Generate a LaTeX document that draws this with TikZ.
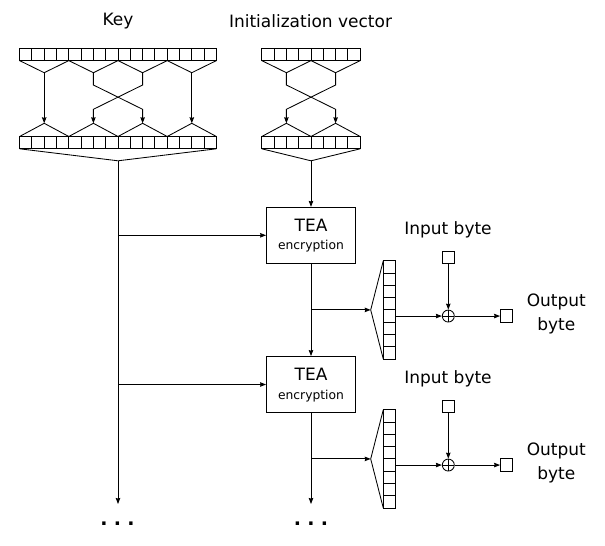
\documentclass[tikz,border=0pt]{standalone}
\usepackage{fontspec}
\setmainfont{DejaVu Sans}
\usetikzlibrary{arrows.meta}
\begin{document}
\begin{tikzpicture}[x=1pt,y=-1pt,line width=0.85pt,
  arr/.style={-{Stealth[length=6pt,width=4.5pt,inset=0.6pt]}},
  biglbl/.style={font=\fontsize{17}{24}\selectfont, inner sep=0pt, align=center},
  smalllbl/.style={font=\fontsize{12.3}{15}\selectfont, inner sep=0pt},
  teabox/.style={draw, minimum width=89pt, minimum height=56pt, inner sep=0pt},
  bytebox/.style={draw, minimum width=12.4pt, minimum height=12.4pt, inner sep=0pt},
  xorc/.style={draw, circle, minimum size=12pt, inner sep=0pt, path picture={
      \draw (path picture bounding box.north) -- (path picture bounding box.south)
            (path picture bounding box.west) -- (path picture bounding box.east);}},
  dots/.style={font=\fontsize{19}{20}\selectfont\bfseries, inner sep=0pt}]
\useasboundingbox (0,0) rectangle (605,546);

% ---------- labels ----------
\node[biglbl] (keylbl) at (118,21.5) {Key};
\node[biglbl] (ivlbl) at (310.5,21.5) {Initialization vector};

% ---------- key registers ----------
\def\cw{12.3}
\draw (19.6,48.3) rectangle (216.4,60.6);
\foreach \i in {1,...,15} \draw ({19.6+\cw*\i},48.3) -- ({19.6+\cw*\i},60.6);
\draw (19.6,136.5) rectangle (216.4,148.8);
\foreach \i in {1,...,15} \draw ({19.6+\cw*\i},136.5) -- ({19.6+\cw*\i},148.8);
\foreach \k in {0,...,3}{
  \coordinate (ka\k) at ({44.2+49.2*\k},72.7);
  \coordinate (kb\k) at ({44.2+49.2*\k},123.3);
  \draw ({19.6+49.2*\k},60.6) -- (ka\k) -- ({19.6+49.2*(\k+1)},60.6);
  \draw ({19.6+49.2*\k},136.5) -- (kb\k) -- ({19.6+49.2*(\k+1)},136.5);
}
\draw[arr] (ka0) -- (kb0);
\draw[arr] (ka3) -- (kb3);
\draw[arr] (ka1) -- (93.4,85) -- (142.6,109.3) -- (kb2);
\draw[arr] (ka2) -- (142.6,85) -- (93.4,109.3) -- (kb1);
\coordinate (kout) at (118,160.8);
\draw (19.6,148.8) -- (kout) -- (216.4,148.8);

% ---------- IV registers ----------
\draw (261.8,48.3) rectangle (360.2,60.6);
\foreach \i in {1,...,7} \draw ({261.8+\cw*\i},48.3) -- ({261.8+\cw*\i},60.6);
\draw (261.8,136.5) rectangle (360.2,148.8);
\foreach \i in {1,...,7} \draw ({261.8+\cw*\i},136.5) -- ({261.8+\cw*\i},148.8);
\foreach \k in {0,1}{
  \coordinate (va\k) at ({286.4+49.2*\k},72.7);
  \coordinate (vb\k) at ({286.4+49.2*\k},123.3);
  \draw ({261.8+49.2*\k},60.6) -- (va\k) -- ({261.8+49.2*(\k+1)},60.6);
  \draw ({261.8+49.2*\k},136.5) -- (vb\k) -- ({261.8+49.2*(\k+1)},136.5);
}
\draw[arr] (va0) -- (286.4,85) -- (335.6,109.3) -- (vb1);
\draw[arr] (va1) -- (335.6,85) -- (286.4,109.3) -- (vb0);
\coordinate (vout) at (311,160.8);
\draw (261.8,148.8) -- (vout) -- (360.2,148.8);

% ---------- TEA boxes ----------
\foreach \n/\dy in {1/0,2/149.2}{
  \node[teabox] (tea\n) at (311,{235.3+\dy}) {};
  \node[biglbl] (teaa\n) at (311,{225.3+\dy}) {TEA};
  \node[smalllbl] (teab\n) at (311,{246.5+\dy}) {encryption};
}

\coordinate (kend) at (118,504);
\coordinate (vend) at (311,504);
\coordinate (kj1) at (118,235.3);
\coordinate (kj2) at (118,384.5);
\draw[arr] (kout) -- (kend);
\draw[arr] (kj1) -- (tea1.west);
\draw[arr] (kj2) -- (tea2.west);
\draw[arr] (vout) -- (tea1.north);
\draw[arr] (tea1.south) -- (tea2.north);
\draw[arr] (tea2.south) -- (vend);

% ---------- output stages ----------
\foreach \n/\dy in {1/0,2/149}{
  \draw (383.3,{260.7+\dy}) rectangle (395.7,{359.1+\dy});
  \foreach \i in {1,...,7} \draw (383.3,{260.7+\dy+\cw*\i}) -- (395.7,{260.7+\dy+\cw*\i});
  \coordinate (tip\n) at (370.7,{309.9+\dy});
  \draw (383.3,{260.7+\dy}) -- (tip\n) -- (383.3,{359.1+\dy});
  \coordinate (bj\n) at (311,{309.9+\dy});
  \coordinate (rout\n) at (395.7,{316.05+\dy});
  \node[xorc] (x\n) at (448.3,{316.05+\dy}) {};
  \node[bytebox] (in\n) at (448.3,{257.2+\dy}) {};
  \node[bytebox] (out\n) at (506.7,{316.05+\dy}) {};
  \node[biglbl] (inl\n) at (448,{229.8+\dy}) {Input byte};
  \node[biglbl] (outl\n) at (556.3,{313.5+\dy}) {Output\\byte};
  \draw[arr] (bj\n) -- (tip\n);
  \draw[arr] (rout\n) -- (x\n.west);
  \draw[arr] (in\n.south) -- (x\n.north);
  \draw[arr] (x\n.east) -- (out\n.west);
}

% ---------- ellipses ----------
\node[dots] (kdots) at (117.5,523.8) {.\hspace{6.3pt}.\hspace{6.3pt}.};
\node[dots] (vdots) at (311,523.8) {.\hspace{6.3pt}.\hspace{6.3pt}.};
\end{tikzpicture}
\end{document}
